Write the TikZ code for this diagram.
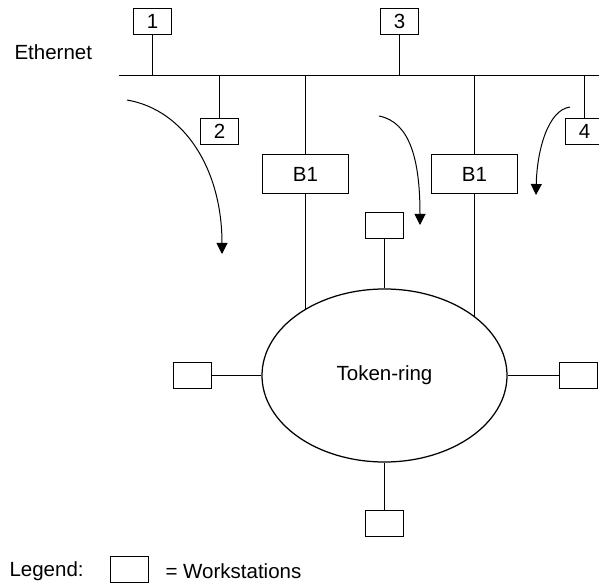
\documentclass[tikz,border=0pt]{standalone}
\usepackage{fontspec}
\setmainfont{Liberation Sans}
\usetikzlibrary{arrows.meta,shapes.geometric,backgrounds}
\begin{document}
\begin{tikzpicture}[x=1pt,y=-1pt,
  every node/.style={font=\fontsize{20.5}{24}\selectfont},
  box/.style={draw,line width=1.25pt,minimum width=38pt,minimum height=26pt,inner sep=0pt},
  bridge/.style={draw,line width=1.25pt,minimum width=86pt,minimum height=39pt,inner sep=0pt},
  wire/.style={line width=1.25pt},
  flow/.style={line width=1pt,-{Triangle[width=11pt,length=11pt]}}]
\clip (0,0) rectangle (599,585);
\useasboundingbox (0,0) rectangle (599,585);
% Ethernet
\node[anchor=west] (eth) at (11,52) {Ethernet};
\coordinate (busL) at (119,75.5);
\coordinate (busR) at (605,75.5);
\draw[wire] (busL) -- (busR);
\node[box] (n1) at (152.5,21.5) {1};
\node[box] (n3) at (399.5,21.5) {3};
\node[box] (n2) at (219.5,131.5) {2};
\node[box] (n4) at (584.5,131.5) {4};
\draw[wire] (n1.south) -- (n1.south |- busL);
\draw[wire] (n3.south) -- (n3.south |- busL);
\draw[wire] (n2.north) -- (n2.north |- busL);
\draw[wire] (n4.north) -- (n4.north |- busL);
% bridges
\node[bridge] (b1a) at (305.5,174) {B1};
\node[bridge] (b1b) at (474.5,174) {B1};
\draw[wire] (b1a.north) -- (b1a.north |- busL);
\draw[wire] (b1b.north) -- (b1b.north |- busL);
% token ring
\node[draw,ellipse,line width=1.25pt,fill=white,minimum width=245pt,minimum height=173pt,inner sep=0pt] (ring) at (384.5,375.5) {Token-ring};
\begin{scope}[on background layer]
\draw[wire] (b1a.south) -- (b1a.south |- ring.center);
\draw[wire] (b1b.south) -- (b1b.south |- ring.center);
\end{scope}
\node[box] (wt) at (384.5,225.5) {};
\node[box] (wl) at (192.5,375.5) {};
\node[box] (wr) at (578.5,375.5) {};
\node[box] (wb) at (384.5,523.5) {};
\draw[wire] (wt) -- (ring.north);
\draw[wire] (wl) -- (ring.west);
\draw[wire] (wr) -- (ring.east);
\draw[wire] (wb) -- (ring.south);
% flow arrows
\coordinate (a1s) at (127,100);
\coordinate (a1e) at (222,254);
\coordinate (a2s) at (379,116);
\coordinate (a2e) at (420,225);
\coordinate (a3s) at (570,107);
\coordinate (a3e) at (536,195);
\draw[flow] (a1s) .. controls (185,110) and (222,170) .. (a1e);
\draw[flow] (a2s) .. controls (410,122) and (420,160) .. (a2e);
\draw[flow] (a3s) .. controls (548,110) and (537,150) .. (a3e);
% legend
\node[anchor=west] (leg) at (6,571) {Legend:};
\node[box] (legbox) at (129.5,569.5) {};
\node[anchor=west] (legtxt) at (162,571) {= Workstations};
\end{tikzpicture}
\end{document}
